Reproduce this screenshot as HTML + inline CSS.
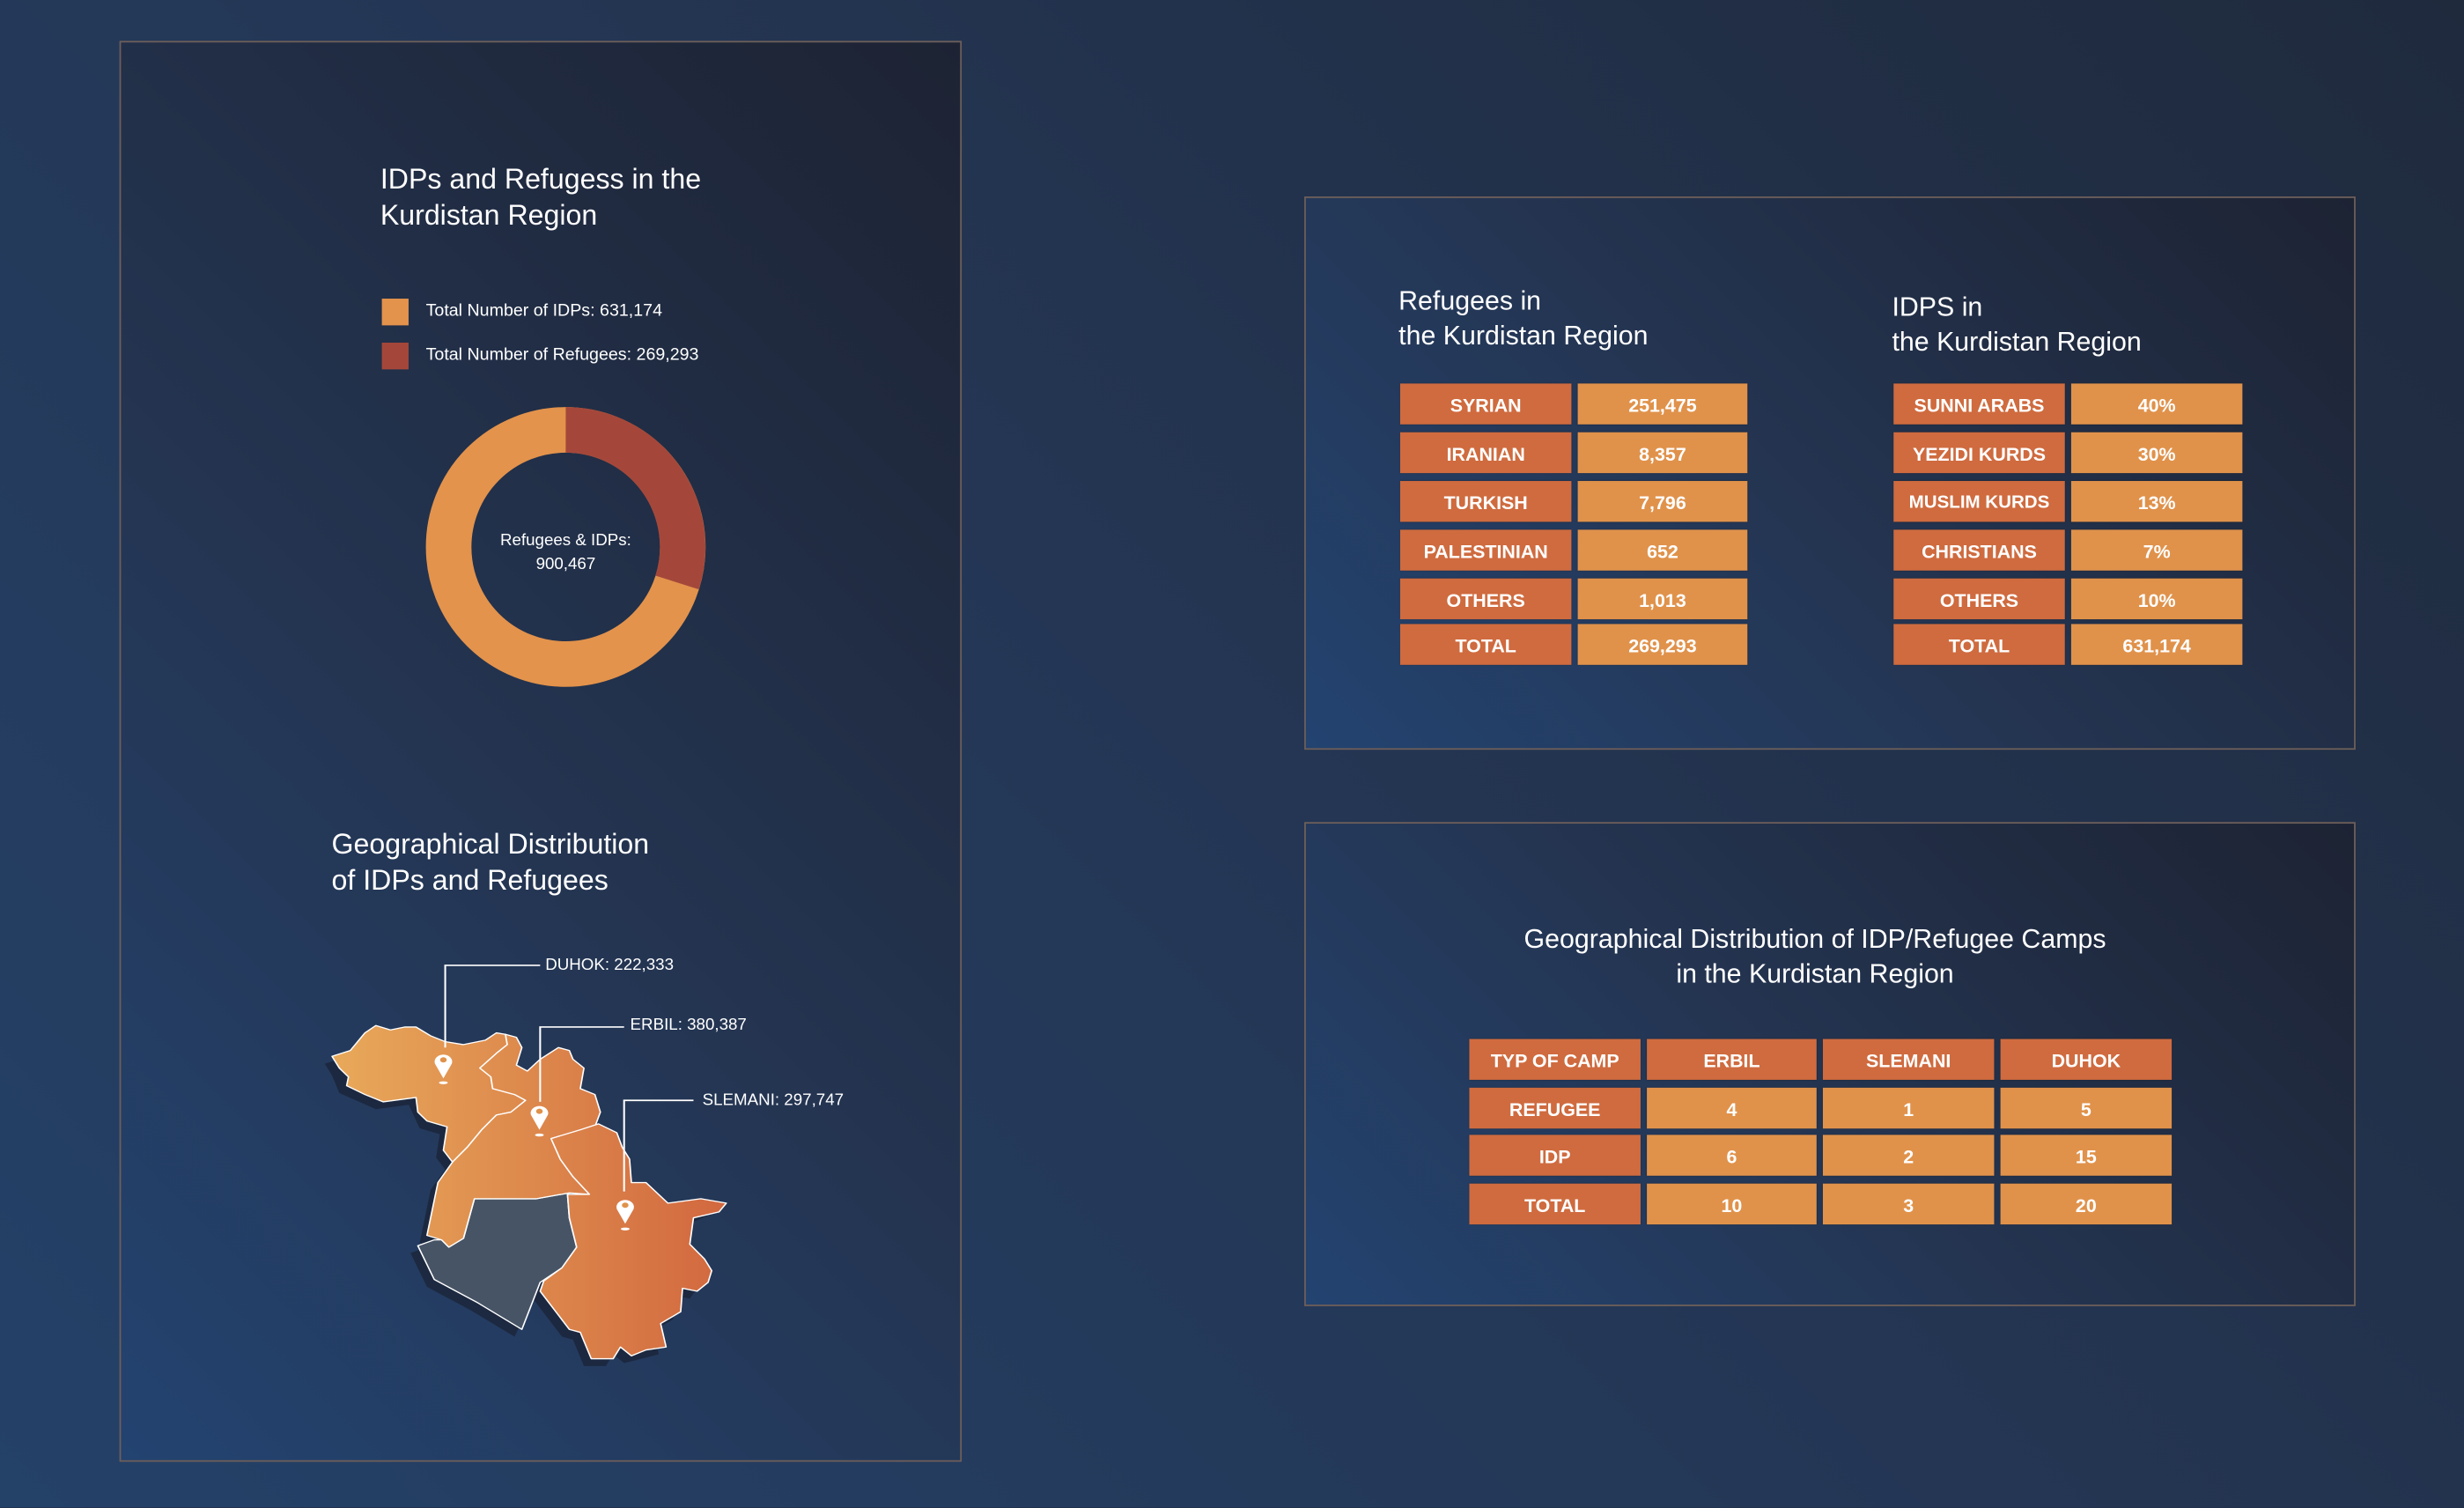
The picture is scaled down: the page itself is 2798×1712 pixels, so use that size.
<!DOCTYPE html>
<html><head><meta charset="utf-8"><style>
html,body{margin:0;padding:0;width:2798px;height:1712px;overflow:hidden;background:#222f48;}
#s{position:absolute;left:0;top:0;width:1568px;height:959px;transform:scale(1.78444);transform-origin:0 0;
background:linear-gradient(225deg,#1f2a3d 0%,#243654 50%,#244168 100%);font-family:"Liberation Sans",sans-serif;color:#fff;}
.p{position:absolute;border:1px solid #6e5f5a;background:linear-gradient(225deg,#1d2333 0%,#243552 55%,#234370 100%);box-sizing:border-box;}
.t{position:absolute;font-size:18px;line-height:23px;color:#fff;font-family:"Liberation Sans Narrow","Liberation Sans",sans-serif;}
.c{position:absolute;height:26px;line-height:28px;text-align:center;font-family:"Liberation Sans Narrow","Liberation Sans",sans-serif;font-weight:bold;font-size:12px;color:#fff;box-shadow:0 0 1px rgba(0,0,0,.4);white-space:nowrap;}
.d{background:#cf6b3f}.l{background:#e0924b}
.lab{position:absolute;font-family:"Liberation Sans Narrow","Liberation Sans",sans-serif;font-size:10.5px;color:#fff;}
</style></head><body><div id="s">
<div class="p" style="left:76px;top:26px;width:536px;height:904px"></div>
<div class="p" style="left:830px;top:125px;width:669px;height:352px"></div>
<div class="p" style="left:830px;top:523px;width:669px;height:308px"></div>

<div class="t" style="left:242px;top:103px">IDPs and Refugess in the<br>Kurdistan Region</div>
<div style="position:absolute;left:243px;top:190px;width:17px;height:17px;background:#e3934c"></div>
<div style="position:absolute;left:243px;top:218px;width:17px;height:17px;background:#a4473a"></div>
<div class="lab" style="left:271px;top:192px;font-size:11px">Total Number of IDPs: 631,174</div>
<div class="lab" style="left:271px;top:220px;font-size:11px">Total Number of Refugees: 269,293</div>
<svg style="position:absolute;left:260px;top:248px" width="200" height="200" viewBox="-100 -100 200 200">
<circle r="74.5" fill="none" stroke="#e3934c" stroke-width="29"/>
<path d="M0,-74.5 A74.5,74.5 0 0 1 70.9,22.6" fill="none" stroke="#a4473a" stroke-width="29"/>
<text x="0" y="-1" text-anchor="middle" font-size="10.5" fill="#fff" font-family="Liberation Sans Narrow, Liberation Sans, sans-serif">Refugees &amp; IDPs:</text>
<text x="0" y="14" text-anchor="middle" font-size="10.5" fill="#fff" font-family="Liberation Sans Narrow, Liberation Sans, sans-serif">900,467</text>
</svg>

<div class="t" style="left:211px;top:526px">Geographical Distribution<br>of IDPs and Refugees</div>
<svg style="position:absolute;left:201.7px;top:588.4px" width="364.3" height="291.4" viewBox="0 0 1568 1560" preserveAspectRatio="none">
<defs><linearGradient id="g" gradientUnits="userSpaceOnUse" x1="40" y1="0" x2="1120" y2="0"><stop offset="0" stop-color="#e8a95a"/><stop offset="1" stop-color="#d2683f"/></linearGradient></defs>
<g transform="translate(-20,25)" fill="#1a2438" opacity=".8">
<polygon points="40,450 90,430 130,370 160,345 200,360 270,350 350,400 460,395 505,370 545,385 560,420 545,480 575,500 660,420 690,430 730,490 720,560 760,580 775,640 770,680 820,710 855,800 860,880 900,880 960,950 1050,935 1120,950 1030,1000 1020,1090 1080,1180 1040,1250 1000,1240 995,1320 940,1360 955,1440 860,1470 830,1440 810,1480 750,1480 720,1390 690,1380 610,1250 560,1380 440,1290 320,1210 275,1095 320,1075 300,1060 330,880 370,810 345,770 355,690 300,670 270,590 180,605 80,550 60,490"/>
</g>
<g stroke="#fff" stroke-width="4" stroke-linejoin="round">
<polygon fill="#475466" points="275,1095 320,1075 340,1075 360,1100 400,1070 430,935 500,935 600,935 690,915 685,920 690,1000 710,1100 670,1170 610,1220 560,1380 440,1290 320,1210"/>
<polygon fill="url(#g)" points="40,450 90,430 130,370 160,345 200,360 240,350 270,350 310,380 350,400 400,410 460,395 490,370 515,375 520,410 490,440 445,490 475,520 480,560 540,580 570,600 530,640 490,650 450,700 410,760 370,810 345,770 355,690 300,670 275,640 270,590 180,605 130,580 80,550 85,520 60,490"/>
<polygon fill="url(#g)" points="515,375 545,385 560,420 545,480 575,500 610,460 660,420 690,430 700,460 730,490 720,560 760,580 775,640 760,690 640,730 665,800 700,860 745,920 690,915 600,935 500,935 430,935 400,1070 360,1100 340,1075 300,1060 330,880 370,810 410,760 450,700 490,650 530,640 570,600 540,580 480,560 475,520 445,490 490,440 520,410"/>
<polygon fill="url(#g)" points="640,730 720,700 770,680 820,710 835,760 855,800 860,880 900,880 960,950 1050,935 1120,950 1100,980 1030,1000 1020,1090 1060,1140 1080,1180 1070,1220 1040,1250 1000,1240 995,1320 940,1360 955,1440 900,1450 860,1470 830,1440 810,1480 750,1480 720,1390 690,1380 610,1250 620,1215 670,1170 710,1100 690,1000 685,920 745,920 700,860 665,800"/>
</g>
<g fill="none" stroke="#fff" stroke-width="5">
<polyline points="350,420 350,140 610,140"/><polyline points="610,605 610,350 840,350"/><polyline points="840,910 840,600 1030,600"/>
</g>
<g fill="#fff">
<path d="M345,525 L322,475 A24,24 0 1 1 368,475 Z"/><ellipse cx="345" cy="540" rx="12" ry="5"/>
<path d="M608,700 L585,650 A24,24 0 1 1 631,650 Z"/><ellipse cx="608" cy="718" rx="12" ry="5"/>
<path d="M843,1020 L820,970 A24,24 0 1 1 866,970 Z"/><ellipse cx="843" cy="1038" rx="12" ry="5"/>
</g>
<g fill="#e0924b"><circle cx="345" cy="462" r="9"/><circle cx="608" cy="637" r="9"/><circle cx="843" cy="957" r="9"/></g>
</svg>
<div class="lab" style="left:347px;top:608px">DUHOK: 222,333</div>
<div class="lab" style="left:401px;top:646px">ERBIL: 380,387</div>
<div class="lab" style="left:447px;top:694px">SLEMANI: 297,747</div>

<div class="t" style="left:890px;top:181px;font-size:17px;line-height:22px">Refugees in<br>the Kurdistan Region</div>
<div class="t" style="left:1204px;top:185px;font-size:17px;line-height:22px">IDPS in<br>the Kurdistan Region</div>

<div class="c d" style="left:891px;top:244px;width:109px">SYRIAN</div><div class="c l" style="left:1004px;top:244px;width:108px">251,475</div>
<div class="c d" style="left:891px;top:275px;width:109px">IRANIAN</div><div class="c l" style="left:1004px;top:275px;width:108px">8,357</div>
<div class="c d" style="left:891px;top:306px;width:109px">TURKISH</div><div class="c l" style="left:1004px;top:306px;width:108px">7,796</div>
<div class="c d" style="left:891px;top:337px;width:109px">PALESTINIAN</div><div class="c l" style="left:1004px;top:337px;width:108px">652</div>
<div class="c d" style="left:891px;top:368px;width:109px">OTHERS</div><div class="c l" style="left:1004px;top:368px;width:108px">1,013</div>
<div class="c d" style="left:891px;top:397px;width:109px">TOTAL</div><div class="c l" style="left:1004px;top:397px;width:108px">269,293</div>

<div class="c d" style="left:1205px;top:244px;width:109px">SUNNI ARABS</div><div class="c l" style="left:1318px;top:244px;width:109px">40%</div>
<div class="c d" style="left:1205px;top:275px;width:109px">YEZIDI KURDS</div><div class="c l" style="left:1318px;top:275px;width:109px">30%</div>
<div class="c d" style="left:1205px;top:306px;width:109px;font-size:11.5px">MUSLIM KURDS</div><div class="c l" style="left:1318px;top:306px;width:109px">13%</div>
<div class="c d" style="left:1205px;top:337px;width:109px">CHRISTIANS</div><div class="c l" style="left:1318px;top:337px;width:109px">7%</div>
<div class="c d" style="left:1205px;top:368px;width:109px">OTHERS</div><div class="c l" style="left:1318px;top:368px;width:109px">10%</div>
<div class="c d" style="left:1205px;top:397px;width:109px">TOTAL</div><div class="c l" style="left:1318px;top:397px;width:109px">631,174</div>

<div class="t" style="left:900px;top:587px;width:510px;text-align:center;font-size:17px;line-height:22px">Geographical Distribution of IDP/Refugee Camps<br>in the Kurdistan Region</div>

<div class="c d" style="left:935px;top:661px;width:109px">TYP OF CAMP</div><div class="c d" style="left:1048px;top:661px;width:108px">ERBIL</div><div class="c d" style="left:1160px;top:661px;width:109px">SLEMANI</div><div class="c d" style="left:1273px;top:661px;width:109px">DUHOK</div>
<div class="c d" style="left:935px;top:692px;width:109px">REFUGEE</div><div class="c l" style="left:1048px;top:692px;width:108px">4</div><div class="c l" style="left:1160px;top:692px;width:109px">1</div><div class="c l" style="left:1273px;top:692px;width:109px">5</div>
<div class="c d" style="left:935px;top:722px;width:109px">IDP</div><div class="c l" style="left:1048px;top:722px;width:108px">6</div><div class="c l" style="left:1160px;top:722px;width:109px">2</div><div class="c l" style="left:1273px;top:722px;width:109px">15</div>
<div class="c d" style="left:935px;top:753px;width:109px">TOTAL</div><div class="c l" style="left:1048px;top:753px;width:108px">10</div><div class="c l" style="left:1160px;top:753px;width:109px">3</div><div class="c l" style="left:1273px;top:753px;width:109px">20</div>
</div></body></html>
